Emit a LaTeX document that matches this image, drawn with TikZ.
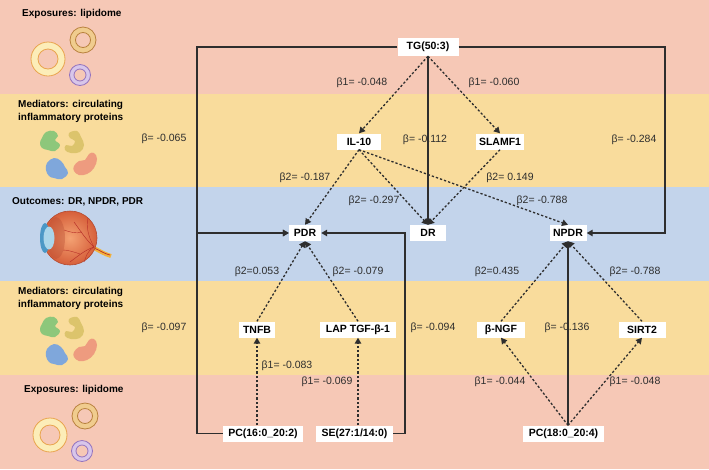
\documentclass[tikz,border=0pt]{standalone}
\usepackage{fontspec}
\setmainfont{Liberation Sans}
\usetikzlibrary{arrows.meta,calc}
\definecolor{salmon}{HTML}{F6C8B6}
\definecolor{ylw}{HTML}{F9DC9C}
\definecolor{blu}{HTML}{C3D4EB}
\definecolor{ink}{HTML}{2E2E2E}
\definecolor{ringYf}{HTML}{FCEDB8}
\definecolor{ringYd}{HTML}{E9A44E}
\definecolor{ringTf}{HTML}{F0CC8E}
\definecolor{ringTd}{HTML}{B9823F}
\definecolor{ringPf}{HTML}{D8C6EA}
\definecolor{ringPd}{HTML}{9474BE}
\definecolor{protG}{HTML}{8DC77B}
\definecolor{protY}{HTML}{DCC46C}
\definecolor{protB}{HTML}{7FA7DB}
\definecolor{protR}{HTML}{EE9B7F}
\definecolor{eyeA}{HTML}{F4A273}
\definecolor{eyeB}{HTML}{D65F3A}
\definecolor{eyeC}{HTML}{B44A30}
\definecolor{corn}{HTML}{4B98C6}
\definecolor{lens}{HTML}{AAD6EA}
\definecolor{nerve}{HTML}{F2B23C}
\definecolor{vess}{HTML}{B8322A}
\tikzset{
  rings/.pic={
    \path[fill=ringYf,draw=ringYd,line width=0.8pt,even odd rule] (48,59) circle (17) (48,59) circle (10);
    \path[fill=ringTf,draw=ringTd,line width=0.8pt,even odd rule] (83,40) circle (13) (83,40) circle (7.5);
    \path[fill=ringPf,draw=ringPd,line width=0.8pt,even odd rule] (80,75) circle (10.5) (80,75) circle (6);
  },
  proteins/.pic={
    \fill[protG] plot[smooth cycle, tension=0.7] coordinates {(42,138) (46,132) (54,131) (58,136) (55,140) (60,145) (55,151) (48,150) (42,148) (40,143)};
    \fill[protY] plot[smooth cycle, tension=0.7] coordinates {(69,133) (77,131) (81,137) (84,145) (80,152) (71,153) (65,150) (66,145) (72,146) (75,141) (70,138)};
    \fill[protB] plot[smooth cycle, tension=0.7] coordinates {(47,163) (54,158) (61,161) (65,167) (68,173) (62,179) (54,178) (49,176) (46,170)};
    \fill[protR] plot[smooth cycle, tension=0.7] coordinates {(74,166) (79,161) (85,160) (89,154) (94,153) (97,159) (94,168) (87,174) (79,175) (74,171)};
  },
  box/.style={fill=white, text=black, font=\bfseries\fontsize{10.5}{12}\selectfont, inner xsep=1pt, inner ysep=1pt, minimum height=16pt},
  lab/.style={text=ink, font=\fontsize{10.5}{12}\selectfont, inner sep=0pt},
  head/.style={text=black, font=\bfseries\fontsize{10}{13}\selectfont, align=left, anchor=west, inner sep=0pt},
  solidarrow/.style={draw=ink, line width=1.3pt, -{Triangle[length=6pt,width=6.5pt]}},
  dasharrow/.style={draw=ink, line width=1.3pt, dash pattern=on 2.3pt off 2pt, -{Triangle[length=6pt,width=6.5pt]}},
}
\begin{document}
\begin{tikzpicture}[x=1pt,y=-1pt]
% bands
\fill[salmon] (0,0) rectangle (709,93.5);
\fill[ylw] (0,93.5) rectangle (709,187);
\fill[blu] (0,187) rectangle (709,281);
\fill[ylw] (0,281) rectangle (709,374.5);
\fill[salmon] (0,374.5) rectangle (709,469);
\useasboundingbox (0,0) rectangle (709,469);

% left panel headers
\node[head] (h1) at (22,14) {Exposures: lipidome};
\node[head] (h2) at (18,111.5) {Mediators: circulating\\inflammatory proteins};
\node[head] (h3) at (12,202) {Outcomes: DR, NPDR, PDR};
\node[head] (h4) at (18,298.5) {Mediators: circulating\\inflammatory proteins};
\node[head] (h5) at (24,390) {Exposures: lipidome};

% icons
\pic at (0,0) {rings};
\pic at (2,376) {rings};
\pic at (0,0) {proteins};
\pic at (0,186) {proteins};

% eye
\draw[nerve, line width=4pt] (92,247) .. controls (100,251) and (104,254) .. (111,256);
\draw[vess, line width=0.7pt] (94,248) .. controls (101,251) and (105,254) .. (110,255);
\shade[inner color=eyeA, outer color=eyeB] (70,238) circle (27);
\draw[eyeC, line width=0.6pt] (70,238) circle (27);
\fill[eyeC, opacity=0.35] (56,238) ellipse (9 and 21);
\fill[corn] (45,238) ellipse (5 and 15);
\fill[lens] (49,238) ellipse (5.5 and 11.5);
\draw[vess, line width=0.5pt] (94,247) .. controls (86,240) and (80,230) .. (74,222);
\draw[vess, line width=0.5pt] (94,247) .. controls (85,250) and (78,256) .. (70,262);
\draw[vess, line width=0.4pt] (94,247) .. controls (88,236) and (86,226) .. (88,218);
\draw[vess, line width=0.4pt] (94,247) .. controls (86,252) and (86,258) .. (84,262);
\draw[vess, line width=0.4pt] (82,232) .. controls (76,234) and (70,232) .. (64,230);
\draw[vess, line width=0.4pt] (80,254) .. controls (74,252) and (68,250) .. (63,250);

% main nodes
\node[box, minimum width=61pt, minimum height=18pt] (TG) at (428,47) {TG(50:3)};
\node[box, minimum width=44pt] (IL10) at (359,141.5) {IL-10};
\node[box, minimum width=48pt] (SLAMF1) at (500,141.5) {SLAMF1};
\node[box, minimum width=32pt] (PDR) at (305,233) {PDR};
\node[box, minimum width=36pt] (DR) at (428,233) {DR};
\node[box, minimum width=37pt] (NPDR) at (568,233) {NPDR};
\node[box, minimum width=36pt] (TNFB) at (257,329.5) {TNFB};
\node[box, minimum width=76pt] (LAP) at (358,329.5) {LAP TGF-β-1};
\node[box, minimum width=48pt] (BNGF) at (501,329.5) {β-NGF};
\node[box, minimum width=47pt] (SIRT2) at (642,329.5) {SIRT2};
\node[box, minimum width=80pt] (PC16) at (263,433.5) {PC(16:0\_20:2)};
\node[box, minimum width=77pt] (SE) at (354.5,433.5) {SE(27:1/14:0)};
\node[box, minimum width=81pt] (PC18) at (563.5,433.5) {PC(18:0\_20:4)};

% corner coordinates
\coordinate (cL) at (197,233);
\coordinate (cR) at (665,233);
\coordinate (cS) at (405,233);

% solid connectors
\draw[solidarrow] (TG.west) -| (cL) -- (PDR.west);
\draw[solidarrow] (PC16.west) -| (cL) -- (PDR.west);
\draw[solidarrow] (TG.east) -| (cR) -- (NPDR.east);
\draw[solidarrow] (TG.south) -- (DR.north);
\draw[solidarrow] (SE.east) -| (cS) -- (PDR.east);
\draw[solidarrow] (PC18.north -| NPDR.south) -- (NPDR.south);

% dashed connectors
\draw[dasharrow] (TG.south) -- (IL10.north);
\draw[dasharrow] (TG.south) -- (SLAMF1.north);
\draw[dasharrow] (IL10.south) -- (PDR.north);
\draw[dasharrow] (IL10.south) -- (DR.north);
\draw[dasharrow] (IL10.south) -- (NPDR.north);
\draw[dasharrow] (SLAMF1.south) -- (DR.north);
\draw[dasharrow] (TNFB.north) -- (PDR.south);
\draw[dasharrow] (LAP.north) -- (PDR.south);
\draw[dasharrow] (PC16.north -| TNFB.south) -- (TNFB.south);
\draw[dasharrow] (SE.north -| LAP.south) -- (LAP.south);
\draw[dasharrow] (BNGF.north) -- (NPDR.south);
\draw[dasharrow] (SIRT2.north) -- (NPDR.south);
\draw[dasharrow] (PC18.north -| NPDR.south) -- (BNGF.south);
\draw[dasharrow] (PC18.north -| NPDR.south) -- (SIRT2.south);

% labels
\node[lab] (b1) at (164,139) {β= -0.065};
\node[lab] (b2) at (164,328) {β= -0.097};
\node[lab] (b3) at (634,140) {β= -0.284};
\node[lab] (b4) at (425,140) {β= -0.112};
\node[lab] (b5) at (433,328) {β= -0.094};
\node[lab] (b6) at (567,328) {β= -0.136};
\node[lab] (b7) at (362,83) {β1= -0.048};
\node[lab] (b8) at (494,83) {β1= -0.060};
\node[lab] (b9) at (305,178) {β2= -0.187};
\node[lab] (b10) at (374,201) {β2= -0.297};
\node[lab] (b11) at (542,201) {β2= -0.788};
\node[lab] (b12) at (510,178) {β2= 0.149};
\node[lab] (b13) at (257,272) {β2=0.053};
\node[lab] (b14) at (358,272) {β2= -0.079};
\node[lab] (b15) at (287,366) {β1= -0.083};
\node[lab] (b16) at (327,382) {β1= -0.069};
\node[lab] (b17) at (497,272) {β2=0.435};
\node[lab] (b18) at (635,272) {β2= -0.788};
\node[lab] (b19) at (500,382) {β1= -0.044};
\node[lab] (b20) at (635,382) {β1= -0.048};
\end{tikzpicture}
\end{document}
